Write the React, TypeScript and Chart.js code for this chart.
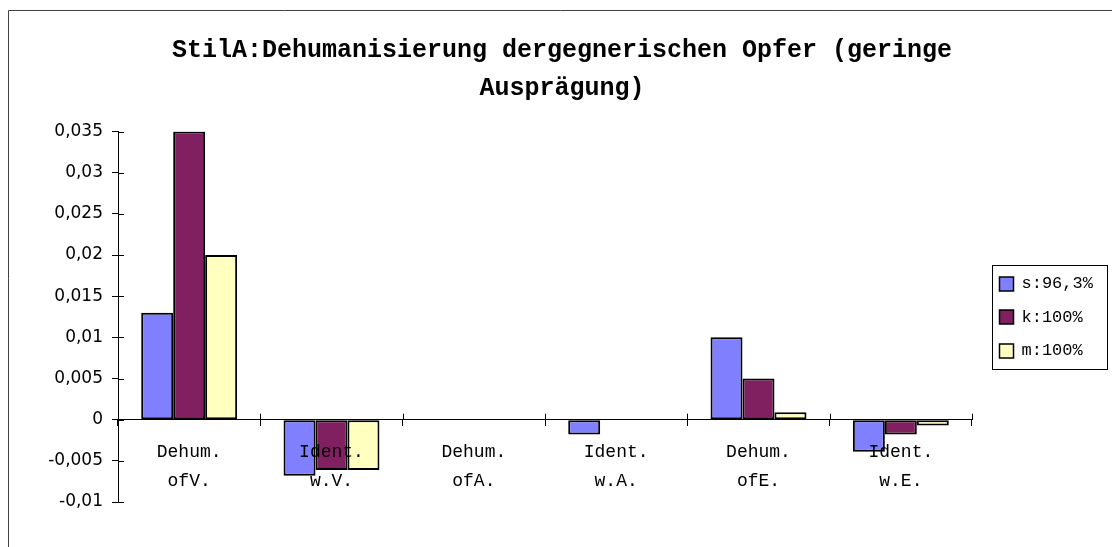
import React, { useEffect, useRef } from "react";
import { Chart, registerables } from "chart.js";

Chart.register(...registerables);

const categories: string[][] = [
  ["Dehum.", "ofV."],
  ["Ident.", "w.V."],
  ["Dehum.", "ofA."],
  ["Ident.", "w.A."],
  ["Dehum.", "ofE."],
  ["Ident.", "w.E."],
];
const seriesLabels = ["s:96,3%", "k:100%", "m:100%"];
const sValues = [0.013, -0.0068, 0, -0.0018, 0.01, -0.0039];
const kValues = [0.035, -0.0061, 0, 0, 0.005, -0.0018];
const mValues = [0.02, -0.0061, 0, 0, 0.0009, -0.0007];
const seriesColors = ["#8080FF", "#802060", "#FFFFC0"];
const yTickValues = [-0.01, -0.005, 0, 0.005, 0.01, 0.015, 0.02, 0.025, 0.03, 0.035];
const yTickLabels = ["-0,01", "-0,005", "0", "0,005", "0,01", "0,015", "0,02", "0,025", "0,03", "0,035"];
const titleLines = ["StilA:Dehumanisierung dergegnerischen Opfer (geringe", "Ausprägung)"];

const framePlugin = {
  id: "frame",
  beforeDraw(chart: any) {
    const ctx = chart.ctx;
    ctx.save();
    ctx.strokeStyle = "#404040";
    ctx.lineWidth = 1;
    ctx.beginPath();
    ctx.moveTo(8.5, chart.height);
    ctx.lineTo(8.5, 10.5);
    ctx.lineTo(chart.width, 10.5);
    ctx.stroke();
    ctx.restore();
  },
};

const crossTicksPlugin = {
  id: "crossTicks",
  afterDraw(chart: any) {
    const ctx = chart.ctx;
    const xs = chart.scales.x;
    const ys = chart.scales.y;
    const zeroY = ys.getPixelForValue(0);
    const axisX = chart.chartArea.left;
    ctx.save();
    ctx.strokeStyle = "#000";
    ctx.lineWidth = 1;
    ctx.beginPath();
    ys.ticks.forEach((t: any) => {
      const py = Math.round(ys.getPixelForValue(t.value)) + 0.5;
      ctx.moveTo(axisX, py);
      ctx.lineTo(axisX + 6, py);
    });
    for (let i = 0; i <= categories.length; i++) {
      const px = Math.round(xs.getPixelForValue(i - 0.5)) + 0.5;
      ctx.moveTo(px, zeroY);
      ctx.lineTo(px, zeroY - 6);
    }
    ctx.stroke();
    ctx.restore();
  },
};

const boxLegendPlugin = {
  id: "boxLegend",
  afterDraw(chart: any) {
    const ctx = chart.ctx;
    const ca = chart.chartArea;
    const left = Math.round(ca.right + 20) + 0.5;
    const width = 115;
    const height = 104;
    const top = Math.round((ca.top + ca.bottom) / 2 - height / 2) + 0.5;
    const rowH = 33.5;
    ctx.save();
    ctx.strokeStyle = "#000";
    ctx.lineWidth = 1;
    ctx.fillStyle = "#fff";
    ctx.fillRect(left, top, width, height);
    ctx.strokeRect(left, top, width, height);
    chart.data.datasets.forEach((ds: any, i: number) => {
      const cy = top + 18 + i * rowH;
      ctx.fillStyle = ds.backgroundColor;
      ctx.fillRect(left + 7, Math.round(cy - 7), 14, 14);
      ctx.lineWidth = 1.5;
      ctx.strokeRect(left + 7, Math.round(cy - 7), 14, 14);
      ctx.fillStyle = "#000";
      ctx.font = "17px 'Liberation Mono', monospace";
      ctx.textBaseline = "middle";
      ctx.textAlign = "left";
      ctx.fillText(ds.label, left + 29, cy);
    });
    ctx.restore();
  },
};

export default function App() {
  const canvasRef = useRef<HTMLCanvasElement | null>(null);

  useEffect(() => {
    if (!canvasRef.current) return;
    const valueSets = [sValues, kValues, mValues];
    const chart = new Chart(canvasRef.current, {
      type: "bar",
      data: {
        labels: categories,
        datasets: seriesLabels.map((label, i) => ({
          label,
          data: valueSets[i],
          backgroundColor: seriesColors[i],
          borderColor: "#000",
          borderWidth: 2,
          borderSkipped: false,
          categoryPercentage: 0.674,
          barPercentage: 1.0,
        })),
      },
      options: {
        animation: false,
        responsive: true,
        maintainAspectRatio: false,
        layout: { padding: { left: 12, right: 0, top: 0, bottom: 45 } },
        plugins: {
          legend: { display: false },
          tooltip: { enabled: false },
          title: {
            display: true,
            text: titleLines,
            color: "#000",
            font: { family: "'Liberation Mono', monospace", size: 25, weight: "bold", lineHeight: 1.55 },
            padding: { top: 31, bottom: 23 },
          },
        },
        scales: {
          x: {
            type: "category",
            position: { y: 0 } as any,
            grid: {
              display: true,
              offset: true,
              drawOnChartArea: false,
              drawTicks: true,
              tickLength: 6,
              color: "#000",
            },
            border: { display: true, color: "#000", width: 1 },
            ticks: {
              z: 1,
              color: "#000",
              font: { family: "'Liberation Mono', monospace", size: 18, lineHeight: 1.6 },
              padding: 12,
              maxRotation: 0,
              autoSkip: false,
            },
          },
          y: {
            type: "linear",
            position: "left",
            min: -0.01,
            max: 0.035,
            afterBuildTicks: (scale: any) => {
              scale.ticks = yTickValues.map((v) => ({ value: v }));
            },
            afterFit: (scale: any) => {
              scale.width = 106;
            },
            grid: {
              display: true,
              drawOnChartArea: false,
              drawTicks: true,
              tickLength: 6,
              color: "#000",
            },
            border: { display: true, color: "#000", width: 1 },
            ticks: {
              color: "#000",
              font: { family: "'DejaVu Sans', sans-serif", size: 17 },
              padding: 9,
              callback: (_v: any, index: number) => yTickLabels[index],
            },
          },
          yRight: {
            type: "linear",
            position: "right",
            display: true,
            grid: { display: false },
            border: { display: false },
            ticks: { display: false },
            afterFit: (scale: any) => {
              scale.width = 140;
            },
          },
        },
      },
      plugins: [framePlugin, crossTicksPlugin, boxLegendPlugin],
    });
    return () => chart.destroy();
  }, []);

  return (
    <div style={{ position: "absolute", left: 0, top: 0, width: 1112, height: 547, background: "#fff" }}>
      <canvas ref={canvasRef} />
    </div>
  );
}
